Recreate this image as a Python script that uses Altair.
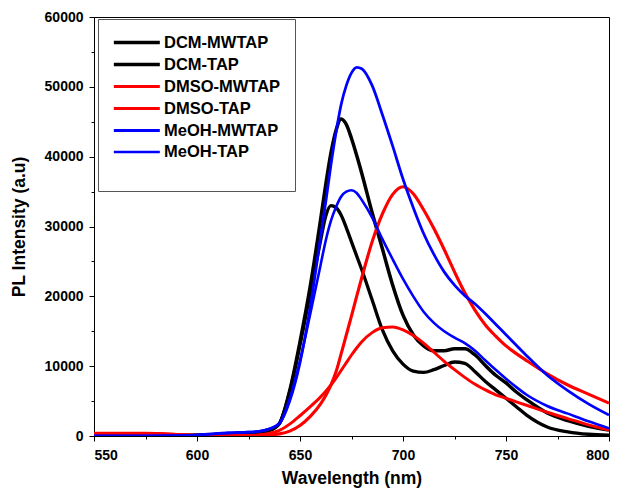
import altair as alt
import pandas as pd

wavelength = [550, 575, 595, 605, 615, 625, 630, 635, 640, 645, 650, 655, 660, 662.5, 665,
              667.5, 670, 672.5, 675, 677.5, 680, 685, 690, 695, 700, 705, 710, 715, 720,
              725, 730, 735, 740, 745, 750, 755, 760, 770, 780, 790, 800]

dcm_mwtap = [100, 100, 100, 150, 300, 450, 550, 800, 1800, 6500, 13500, 21500, 31000, 36000, 40500,
             43800, 45400, 44600, 42600, 40200, 37600, 32000, 26800, 21600, 17300, 14500, 12900, 12200, 12200,
             12500, 12500, 11600, 10100, 8700, 7600, 6300, 5200, 3300, 2200, 1400, 850]
dcm_tap = [100, 100, 100, 150, 300, 450, 550, 800, 1800, 6300, 13000, 20500, 28000, 31500, 33000,
           32700, 31600, 29800, 27800, 25800, 23800, 19500, 15200, 12200, 10300, 9300, 9100, 9500, 10100,
           10600, 10400, 9200, 7800, 6600, 5400, 4200, 3000, 1300, 600, 250, 120]
dmso_mwtap = [350, 350, 150, 50, 50, 50, 80, 150, 300, 700, 1500, 2800, 4600, 5800, 7300,
              9200, 11800, 14500, 17200, 20000, 22700, 27800, 31800, 34600, 35700, 34700, 32400, 29700, 26700,
              23500, 20500, 18000, 15900, 14300, 12900, 11800, 10800, 8900, 7300, 6000, 4700]
dmso_tap = [400, 400, 150, 50, 50, 80, 150, 350, 800, 1700, 2900, 4200, 5600, 6400, 7300,
            8300, 9400, 10500, 11600, 12600, 13500, 14800, 15500, 15600, 15200, 14400, 13300, 12000, 10700,
            9500, 8400, 7400, 6600, 5900, 5400, 4900, 4400, 3400, 2500, 1600, 850]
meoh_mwtap = [0, 0, 50, 250, 450, 550, 650, 1000, 1800, 5000, 10500, 18500, 28500, 33500, 38800,
              43500, 47500, 50200, 52000, 52800, 52600, 50200, 46000, 41500, 36800, 32700, 29000, 26000, 23500,
              21600, 20100, 18900, 17500, 16000, 14500, 13000, 11500, 8700, 6500, 4600, 3000]
meoh_tap = [0, 0, 50, 250, 450, 550, 650, 1000, 1800, 5300, 10800, 17500, 24500, 28000, 30800,
            32800, 34300, 35000, 35200, 34800, 33800, 31300, 28200, 25300, 22500, 20000, 17800, 16200, 15000,
            14100, 13300, 12200, 10800, 9500, 8200, 7000, 5900, 4300, 3200, 2100, 1100]

series_names = ["DCM-MWTAP", "DCM-TAP", "DMSO-MWTAP", "DMSO-TAP", "MeOH-MWTAP", "MeOH-TAP"]
series_values = [dcm_mwtap, dcm_tap, dmso_mwtap, dmso_tap, meoh_mwtap, meoh_tap]
series_colors = ["#000000", "#000000", "#ff0000", "#ff0000", "#0000ff", "#0000ff"]
series_widths = [3.5, 2.6, 3.5, 2.6, 3.5, 2.6]

rows = []
for name, vals in zip(series_names, series_values):
    for order, (w, v) in enumerate(zip(wavelength, vals)):
        rows.append({"series": name, "wavelength": w, "intensity": v, "order": order})
df = pd.DataFrame(rows)

font = "Liberation Sans"

x_ticks = list(range(550, 801, 25))
y_ticks = list(range(0, 60001, 5000))

legend_kw = dict(title=" ", titleOrient="bottom", titleFontSize=10, titlePadding=6,
                 orient="none", legendX=4, legendY=2,
                 symbolType="M-1,0H5", symbolSize=235,
                 labelOffset=33, rowPadding=4, padding=14,
                 strokeColor="#555555", fillColor="white",
                 labelFont=font, labelFontSize=16.5, labelFontWeight="bold",
                 labelColor="black")

chart = alt.Chart(df).mark_line(interpolate="monotone", clip=True).encode(
    x=alt.X("wavelength:Q",
            scale=alt.Scale(domain=[550, 800], nice=False, zero=False),
            axis=alt.Axis(title="Wavelength (nm)", values=x_ticks,
                          labelExpr="datum.value % 50 === 0 ? datum.label : ''",
                          tickSize={"condition": {"test": "datum.value % 50 === 0", "value": 5}, "value": 3},
                          labelPadding=7, titlePadding=7)),
    y=alt.Y("intensity:Q",
            scale=alt.Scale(domain=[0, 60000], nice=False),
            axis=alt.Axis(title="PL Intensity (a.u)", values=y_ticks, format="d",
                          labelExpr="datum.value % 10000 === 0 ? datum.label : ''",
                          tickSize={"condition": {"test": "datum.value % 10000 === 0", "value": 5}, "value": 3},
                          labelPadding=6, titlePadding=16)),
    color=alt.Color("series:N",
                    scale=alt.Scale(domain=series_names, range=series_colors),
                    legend=alt.Legend(**legend_kw)),
    strokeWidth=alt.StrokeWidth("series:N",
                                scale=alt.Scale(domain=series_names, range=series_widths),
                                legend=alt.Legend(**legend_kw)),
    order=alt.Order("order:Q"),
).properties(
    width=515, height=419,
    autosize=alt.AutoSizeParams(type="none"),
    padding={"left": 86, "top": 9, "right": 5, "bottom": 52},
).configure_view(
    stroke="black", strokeWidth=1
).configure_axis(
    domainColor="black", domainWidth=1, tickColor="black", tickWidth=1,
    labelFont=font, labelFontSize=14, labelFontWeight="bold", labelColor="black",
    titleFont=font, titleFontSize=17.5, titleFontWeight="bold", titleColor="black",
    grid=False,
)

chart.save("out.html", embed_options={"renderer": "svg", "actions": False})
